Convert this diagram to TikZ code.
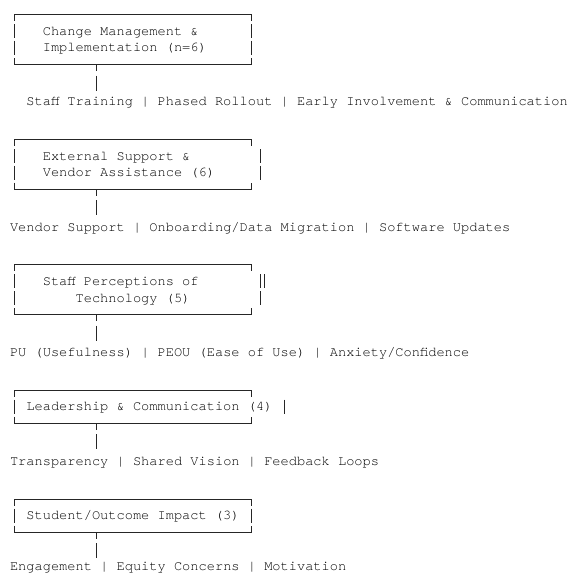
\documentclass[tikz,border=0pt]{standalone}
\usepackage{fontspec}
\newfontfamily\curfam{TeX Gyre Cursor}
\usetikzlibrary{calc}
\begin{document}
\begin{tikzpicture}[x=1pt,y=-1pt,
  ln/.style={line width=0.9pt,draw=black!85},
  txt/.style={anchor=base west,inner sep=0pt,outer sep=0pt,font=\curfam\fontsize{13.67pt}{16pt}\selectfont,text=black}]
\useasboundingbox (0,0) rectangle (579,573);

% ---------- box 1
\draw[ln] (14.1,20.5) -- (14.1,14) -- (251.9,14) -- (251.9,20.5);
\foreach \c in {31,47.5}{\draw[ln] (14.1,\c-7) -- (14.1,\c+7); \draw[ln] (251.9,\c-7) -- (251.9,\c+7);}
\draw[ln] (14.1,58) -- (14.1,64.5) -- (251.9,64.5) -- (251.9,58);
\node[txt] (t1a) at (42.8,35) {Change Management \&};
\node[txt] (t1b) at (42.8,51.5) {Implementation (n=6)};
\coordinate (p1) at (96.1,64.5);
\node[txt] (l1) at (26.4,105) {Staff Training | Phased Rollout | Early Involvement \& Communication};
\draw[ln] (p1) -- ++(0,6.5);
\draw[ln] ($(p1)+(0,11)$) -- ($(p1)+(0,26)$);

% ---------- box 2
\draw[ln] (14.1,145.5) -- (14.1,139) -- (251.9,139) -- (251.9,145.5);
\foreach \c in {156,172.5}{\draw[ln] (14.1,\c-7) -- (14.1,\c+7); \draw[ln] (260.1,\c-7) -- (260.1,\c+7);}
\draw[ln] (14.1,182.5) -- (14.1,189) -- (251.9,189) -- (251.9,182.5);
\node[txt] (t2a) at (42.8,160) {External Support \&};
\node[txt] (t2b) at (42.8,176.5) {Vendor Assistance (6)};
\coordinate (p2) at (96.1,189);
\node[txt] (l2) at (10,231) {Vendor Support | Onboarding/Data Migration | Software Updates};
\draw[ln] (p2) -- ++(0,6.5);
\draw[ln] ($(p2)+(0,11)$) -- ($(p2)+(0,26)$);

% ---------- box 3
\draw[ln] (14.1,270.5) -- (14.1,264) -- (251.9,264) -- (251.9,270.5);
\foreach \c in {281,298}{\draw[ln] (14.1,\c-7) -- (14.1,\c+7); \draw[ln] (260.3,\c-7) -- (260.3,\c+7);}
\draw[ln] (264.8,274) -- (264.8,288);
\draw[ln] (14.1,308) -- (14.1,314.5) -- (251.9,314.5) -- (251.9,308);
\node[txt] (t3a) at (42.8,285) {Staff Perceptions of};
\node[txt] (t3b) at (75.6,302) {Technology (5)};
\coordinate (p3) at (96.1,314.5);
\node[txt] (l3) at (10,356) {PU (Usefulness) | PEOU (Ease of Use) | Anxiety/Confidence};
\draw[ln] (p3) -- ++(0,6.5);
\draw[ln] ($(p3)+(0,11)$) -- ($(p3)+(0,26)$);

% ---------- box 4
\draw[ln] (14.1,396.5) -- (14.1,390) -- (251.9,390) -- (251.9,396.5);
\draw[ln] (14.1,399.5) -- (14.1,413.5);
\draw[ln] (284.7,399.5) -- (284.7,413.5);
\draw[ln] (14.1,416.5) -- (14.1,423) -- (251.9,423) -- (251.9,416.5);
\node[txt] (t4a) at (26.4,410.5) {Leadership \& Communication (4)};
\coordinate (p4) at (96.1,423);
\node[txt] (l4) at (10,465) {Transparency | Shared Vision | Feedback Loops};
\draw[ln] (p4) -- ++(0,6.5);
\draw[ln] ($(p4)+(0,11)$) -- ($(p4)+(0,26)$);

% ---------- box 5
\draw[ln] (14.1,505.5) -- (14.1,499) -- (251.9,499) -- (251.9,505.5);
\draw[ln] (14.1,508.5) -- (14.1,522.5);
\draw[ln] (251.9,508.5) -- (251.9,522.5);
\draw[ln] (14.1,525.5) -- (14.1,532) -- (251.9,532) -- (251.9,525.5);
\node[txt] (t5a) at (26.4,519.5) {Student/Outcome Impact (3)};
\coordinate (p5) at (96.1,532);
\node[txt] (l5) at (10,570.5) {Engagement | Equity Concerns | Motivation};
\draw[ln] (p5) -- ++(0,6.5);
\draw[ln] ($(p5)+(0,11)$) -- ($(p5)+(0,26)$);
\end{tikzpicture}
\end{document}
